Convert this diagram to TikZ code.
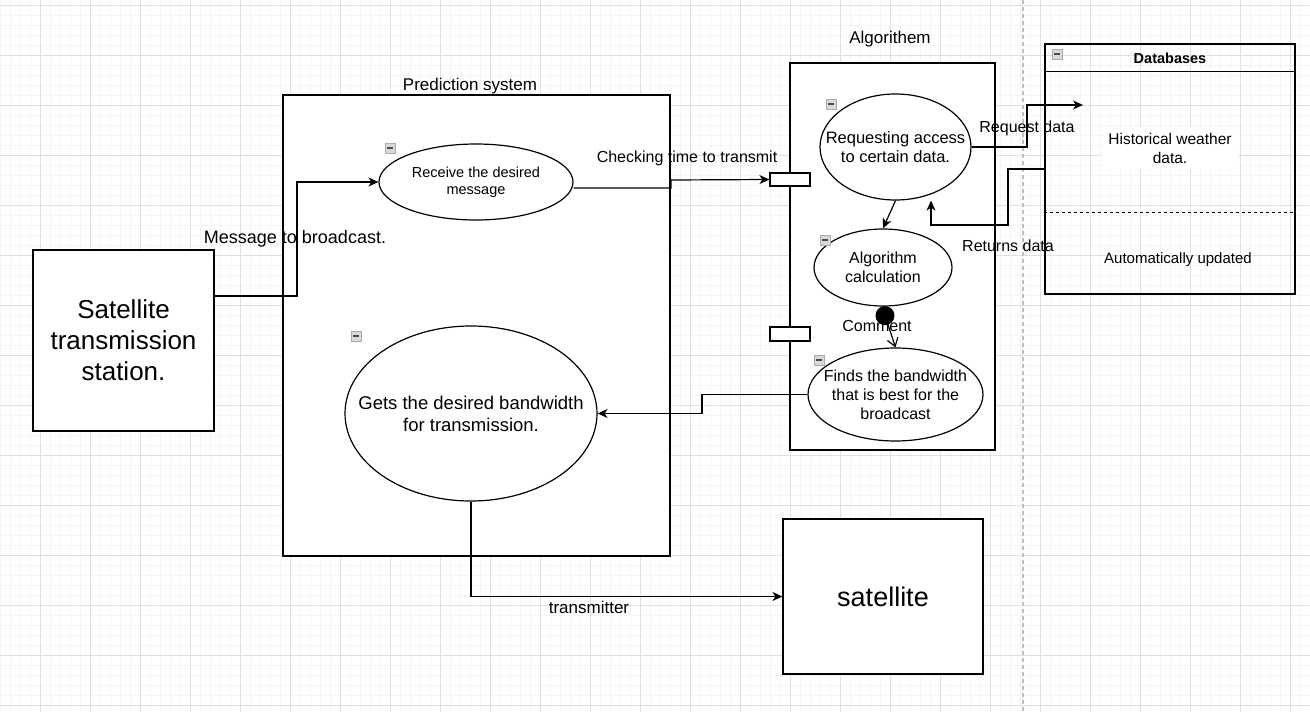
\documentclass[tikz,border=0pt]{standalone}
\usepackage{fontspec}
\setmainfont{Liberation Sans}
\usetikzlibrary{arrows.meta,shapes.geometric,positioning,calc}

\newcommand{\fs}[2]{\fontsize{#1}{#2}\selectfont}
% small collapse marker of the draw.io containers
\newcommand{\collapsebox}[2]{%
  \draw[fill=gray!30, draw=gray!65, line width=0.8] (#1,#2) ++(-5,-5) rectangle ++(10,10);
  \draw[gray!60!black, line width=1.3] (#1,#2) ++(-3,0) -- ++(6,0);}

\tikzset{
  gridminor/.style={line width=0.5, black!4},
  gridmajor/.style={line width=0.7, black!12},
  lanedash/.style={line width=1.5, black!25, dash pattern=on 4pt off 3pt},
  box/.style={draw, line width=1.2, fill=white, inner sep=0pt},
  usecase/.style={draw, ellipse, line width=1.2, fill=white, inner sep=0pt},
  conn/.style={draw, line width=1.2, -{Stealth[length=10pt, width=9pt, inset=3pt]}},
  openconn/.style={draw, line width=1.2, -{Straight Barb[length=8pt, width=11pt]}},
  lbl/.style={inner sep=0pt, align=center, font=\fs{16}{19}}
}

\begin{document}
\begin{tikzpicture}[x=1pt,y=1pt,yscale=-1,xscale=1]
\useasboundingbox (0,0) rectangle (1310,712);

% background grid
\foreach \gx in {0,10,...,1310} \draw[gridminor] (\gx,0) -- (\gx,712);
\foreach \gy in {5,15,...,712} \draw[gridminor] (0,\gy) -- (1310,\gy);
\foreach \gx in {40,90,...,1310} \draw[gridmajor] (\gx,0) -- (\gx,712);
\foreach \gy in {5,55,...,712} \draw[gridmajor] (0,\gy) -- (1310,\gy);

% lane divider
\draw[lanedash] (1023,0) -- (1023,712);

% containers
\node[box, minimum width=387, minimum height=461] (pred) at (476.5,325.5) {};
\node[lbl, font=\fs{17}{20}] (predlbl) at (470,86) {Prediction system};
\node[box, minimum width=205, minimum height=387] (algo) at (892.5,256.5) {};
\node[lbl, font=\fs{17}{20}] (algolbl) at (890,39) {Algorithem};

% use cases
\node[usecase, minimum width=194, minimum height=76] (recv) at (476,182) {};
\node[lbl, font=\fs{14.5}{17}] (recvtxt) at (recv) {Receive the desired\\message};
\node[usecase, minimum width=252, minimum height=175] (gets) at (471,413.5) {};
\node[lbl, font=\fs{18.5}{22}] (getstxt) at (gets) {Gets the desired bandwidth\\for transmission.};
\node[usecase, minimum width=151, minimum height=106] (req) at (895.5,147) {};
\node[lbl, font=\fs{16.5}{19}] (reqtxt) at (req) {Requesting access\\to certain data.};
\node[usecase, minimum width=138, minimum height=77] (calc) at (883,267.5) {};
\node[lbl] (calctxt) at (calc) {Algorithm\\calculation};
\node[usecase, minimum width=175, minimum height=93] (finds) at (895.5,394.5) {};
\node[lbl] (findstxt) at (finds) {Finds the bandwidth\\that is best for the\\broadcast};

% ports
\node[box, minimum width=40, minimum height=13] (port1) at (790,179.5) {};
\node[box, minimum width=40, minimum height=14] (port2) at (790,334) {};

% databases
\node[draw, line width=1.2, minimum width=250, minimum height=250, inner sep=0pt] (db) at (1170,169) {};
\draw[line width=1.2] ($(db.north west)+(0,28)$) -- ($(db.north east)+(0,28)$);
\draw[line width=1.2, dashed] ($(db.north west)+(0,169)$) -- ($(db.north east)+(0,169)$);
\node[lbl, font=\bfseries\fs{14.5}{17}] (dbtitle) at (1170,58) {Databases};
\node[lbl, fill=white, inner sep=6pt, font=\fs{15.5}{19}] (histtxt) at (1170,148) {Historical weather\\data.};
\node[lbl, font=\fs{15}{18}] (autotxt) at (1178,260) {Automatically updated};

% end points
\node[box, minimum width=181, minimum height=181, align=center, font=\fs{26}{31}] (station) at (123.5,340.5) {Satellite\\transmission\\station.};
\node[box, minimum width=200, minimum height=155, font=\fs{27}{32}] (sat) at (883,596.5) {satellite};

\coordinate (dbin) at (1083,105);
\coordinate (cdot) at ($(calc.south)+(2,9)$);

% connectors
\draw[conn] (station.east |- 0,296) -| (297,182) -- (recv.west);
\draw[conn] ([yshift=6pt]recv.east) -| (671,180) -- (port1.west);
\draw[conn] (req.east) -| (1027,105) -- (dbin);
\draw[conn] (db.west) -| (1008,225) -| (req.south -| 931,0);
\draw[conn] (req.south) -- (calc.north);
\fill (cdot) circle (9.5);
\draw[openconn] (cdot) -- (finds.north);
\draw[conn] (finds.west) -| (702,413.5) -- (gets.east);
\draw[conn] (gets.south) |- (sat.west);

% connector labels
\node[lbl, font=\fs{18}{21}] (msglbl) at (295,239) {Message to broadcast.};
\node[lbl] (checklbl) at (687,158) {Checking time to transmit};
\node[lbl] (reqlbl) at (1027,128) {Request data};
\node[lbl] (retlbl) at (1008,246) {Returns data};
\node[lbl] (comlbl) at (877,326) {Comment};
\node[lbl, font=\fs{17}{20}] (txlbl) at (589,607) {transmitter};

% collapse markers
\collapsebox{390}{148}
\collapsebox{356}{336}
\collapsebox{831}{104}
\collapsebox{825}{240}
\collapsebox{819}{360}
\collapsebox{1057}{54}

\end{tikzpicture}
\end{document}
